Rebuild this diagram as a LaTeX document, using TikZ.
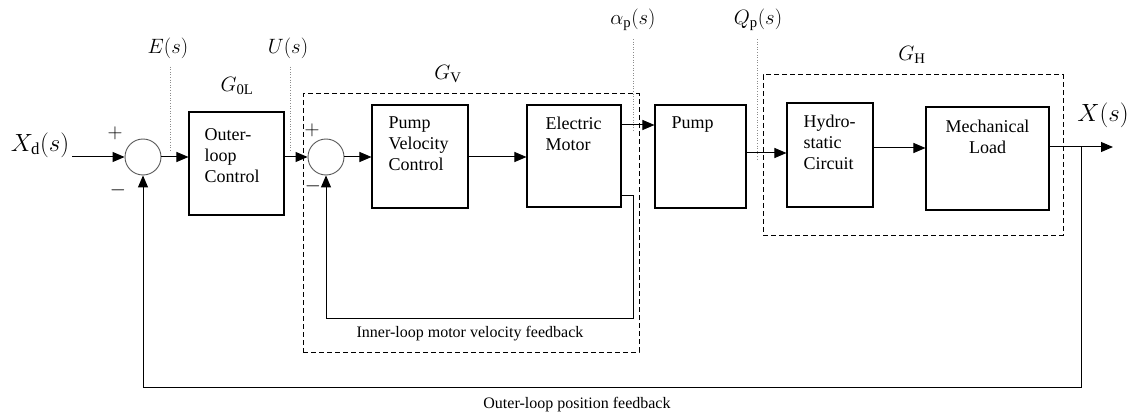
\documentclass[tikz,border=0pt]{standalone}
\usepackage{amsmath}
\usepackage{fontspec}
\setmainfont{Liberation Serif}
\usetikzlibrary{arrows.meta,positioning}

\begin{document}
\begin{tikzpicture}[
    x=1pt, y=-1pt,
    box/.style={draw, line width=1.1pt, inner sep=0pt, minimum height=103pt},
    txt/.style={font=\fontsize{18}{21}\selectfont, align=left, inner sep=0pt, anchor=north west},
    sumnode/.style={circle, draw=black!65, line width=0.9pt, minimum size=36pt, inner sep=0pt},
    group/.style={draw, line width=1pt, dash pattern=on 5pt off 3pt, inner sep=0pt},
    arrow/.style={-{Triangle[length=12pt,width=10pt]}, line width=1pt},
    guide/.style={draw=black!45, dotted, line width=0.6pt},
    sig/.style={font=\fontsize{21}{22}\selectfont, inner sep=0pt},
    note/.style={font=\fontsize{16}{18}\selectfont, inner sep=0pt},
    sgn/.style={font=\fontsize{22}{22}\selectfont, inner sep=0pt}
]
\useasboundingbox (0,0) rectangle (1133,417);

% dashed groups
\node[group, minimum width=336pt, minimum height=258pt] (gv) at (471,223) {};
\node[group, minimum width=300pt, minimum height=160pt] (gh) at (913,155) {};

% summing junctions
\node[sumnode] (sum1) at (143,157) {};
\node[sumnode] (sum2) at (326,157) {};

% blocks
\node[box, minimum width=95pt, label={[txt, xshift=16pt, yshift=-17pt]north west:Outer-\\loop\\Control}] (olc) at (236.5,163.5) {};
\node[box, minimum width=96pt, label={[txt, xshift=17pt, yshift=-12pt]north west:Pump\\Velocity\\Control}] (pvc) at (420,156.5) {};
\node[box, minimum width=94pt, minimum height=102pt, label={[txt, xshift=19pt, yshift=-12pt]north west:Electric\\Motor}] (em) at (574,156) {};
\node[box, minimum width=91pt, label={[txt, xshift=17pt, yshift=-12pt]north west:Pump}] (pump) at (700.5,156.5) {};
\node[box, minimum width=86pt, minimum height=104pt, label={[txt, xshift=17pt, yshift=-12pt]north west:Hydro-\\static\\Circuit}] (hyd) at (830,155) {};
\node[box, minimum width=123pt, label={[txt, align=center, anchor=north, yshift=-13pt]north:Mechanical\\Load}] (mech) at (987.5,158.5) {};

% signal labels
\node[font=\fontsize{24}{26}\selectfont, inner sep=0pt] (xd) at (40,145) {$X_{\mathrm{d}}(s)$};
\node[sig] (es) at (168,48) {$E(s)$};
\node[sig] (us) at (288,48) {$U(s)$};
\node[sig] (g0l) at (237,86) {$G_{\mathrm{0L}}$};
\node[sig] (gvl) at (448,74) {$G_{\mathrm{V}}$};
\node[sig] (aps) at (633,20) {$\alpha_{\mathrm{p}}(s)$};
\node[sig] (qps) at (758,20) {$Q_{\mathrm{p}}(s)$};
\node[sig] (ghl) at (912,55) {$G_{\mathrm{H}}$};
\node[font=\fontsize{24}{26}\selectfont, inner sep=0pt] (xs) at (1103,115) {$X(s)$};

% signs
\node[sgn] (p1) at (115,133) {$+$};
\node[sgn] (m1) at (118,190) {$-$};
\node[sgn] (p2) at (312,130) {$+$};
\node[sgn] (m2) at (313,186) {$-$};

\coordinate (xin) at (72,157);
\coordinate (xout) at (1113,147);
\coordinate (br) at (1081,147);
\coordinate (outb) at (1081,387);
\coordinate (inb) at (633,318);

% forward path
\draw[arrow] (xin) -- (sum1.west);
\draw[arrow] (sum1.east) -- (sum1.east -| olc.west);
\draw[arrow] (olc.east |- sum2) -- (sum2.west);
\draw[arrow] (sum2.east) -- (sum2.east -| pvc.west);
\draw[arrow] (pvc.east |- sum2) -- (sum2 -| em.west);
\draw[arrow] ([yshift=31pt]em.east) -- ([yshift=31pt]em.east -| pump.west);
\draw[arrow] ([yshift=3.5pt]pump.east) -- ([yshift=3.5pt]pump.east -| hyd.west);
\draw[arrow] ([yshift=7pt]hyd.east) -- ([yshift=7pt]hyd.east -| mech.west);
\draw[arrow] ([yshift=11.5pt]mech.east) -- (xout);

% feedback
\draw[arrow] ([yshift=-39pt]em.east) -| (inb) -| (sum2.south);
\draw[arrow] (br) -- (outb) -| (sum1.south);
\node[note] (inlbl) at (470,334) {Inner-loop motor velocity feedback};
\node[note] (outlbl) at (577,405) {Outer-loop position feedback};

% taps
\draw[guide] (es.south) ++(2,8) -- ++(0,84);
\draw[guide] (us.south) ++(2,8) -- ++(0,84);
\draw[guide] (aps.south) ++(0,8) -- ++(0,92);
\draw[guide] (qps.south) ++(-1,8) -- ++(0,120);
\end{tikzpicture}
\end{document}
